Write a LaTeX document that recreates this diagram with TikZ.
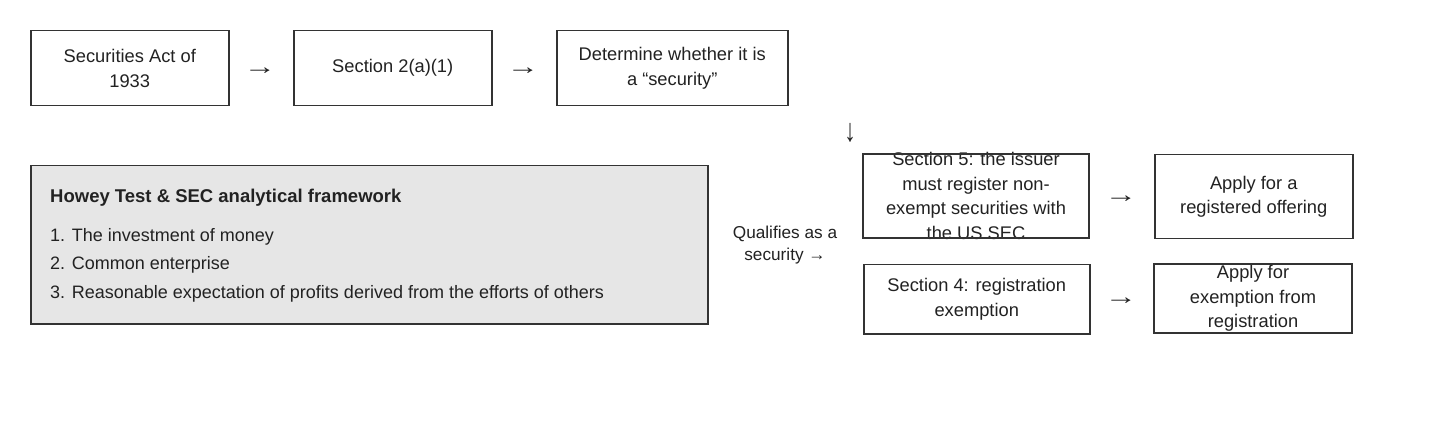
\documentclass[tikz,border=0pt]{standalone}
\usepackage{fontspec}
\setmainfont{Liberation Sans}
\definecolor{ink}{HTML}{222222}
\definecolor{edge}{HTML}{333333}
\definecolor{panel}{HTML}{E6E6E6}
\begin{document}
\begin{tikzpicture}[x=1pt,y=-1pt,
  box/.style={draw=edge,line width=1.5pt,fill=white,inner sep=0pt,anchor=north west},
  bg/.style={fill=white,inner sep=0pt,outer sep=0pt,anchor=north west},
  frame/.style={draw=edge,line width=1.5pt},
  txt/.style={text=ink,align=center,inner sep=0pt,font=\fontsize{18.3}{24.5}\selectfont},
  arr/.style={text=ink,inner sep=0pt,font=\fontsize{23}{26}\selectfont},
  item/.style={text=ink,anchor=west,inner sep=0pt,font=\fontsize{18}{20}\selectfont}
]
\useasboundingbox[fill=white] (0,0) rectangle (1440,438);
% top row
\node[box,minimum width=198pt,minimum height=75pt] (b1) at (30,30) {};
\node[txt] (t1) at (b1.center) {Securities Act of\\1933};
\node[box,minimum width=198pt,minimum height=75pt] (b2) at (293,30) {};
\node[txt] (t2) at (b2.center) {Section 2(a)(1)};
\node[box,minimum width=231pt,minimum height=75pt] (b3) at (556,30) {};
\node[txt] (t3) at (b3.center) {Determine whether it is\\a “security”};
\node[arr] (a1) at (260,71) {\scalebox{1.4}[1]{→}};
\node[arr] (a2) at (523,71) {\scalebox{1.4}[1]{→}};
\node[arr] (a3) at (850,133) {\scalebox{1}[1.4]{↓}};
% Howey panel
\node[box,fill=panel,draw=edge,minimum width=677pt,minimum height=158pt] (hw) at (30,165) {};
\node[text=ink,anchor=west,inner sep=0pt,font=\fontsize{18.5}{20}\selectfont\bfseries] (ht) at (50,198) {Howey Test \& SEC analytical framework};
\node[item] (h1) at (50,237) {1. The investment of money};
\node[item] (h2) at (50,265) {2. Common enterprise};
\node[item] (h3) at (50,294) {3. Reasonable expectation of profits derived from the efforts of others};
% qualifies label
\node[text=ink,align=center,inner sep=0pt,font=\fontsize{17.2}{22}\selectfont] (q) at (785,245) {Qualifies as a\\security →};
% right boxes
\node[bg,minimum width=226pt,minimum height=84pt] (s5) at (863,154) {};
\node[txt] (t5) at (s5.center) {Section 5: the issuer\\must register non-\\exempt securities with\\the US SEC};
\draw[frame] (s5.north west) rectangle (s5.south east);
\node[box,minimum width=198pt,minimum height=84pt] (r1) at (1154,154) {};
\node[txt] (tr1) at (r1.center) {Apply for a\\registered offering};
\node[arr] (a4) at (1121,199) {\scalebox{1.4}[1]{→}};
\node[box,minimum width=226pt,minimum height=69pt] (s4) at (863,264) {};
\node[txt] (t4) at (s4.center) {Section 4: registration\\exemption};
\node[bg,minimum width=198pt,minimum height=69pt] (r2) at (1154,264) {};
\node[txt] (tr2) at (r2.center) {Apply for\\exemption from\\registration};
\draw[frame] (r2.north west) rectangle (r2.south east);
\node[arr] (a5) at (1121,301) {\scalebox{1.4}[1]{→}};
\end{tikzpicture}
\end{document}
